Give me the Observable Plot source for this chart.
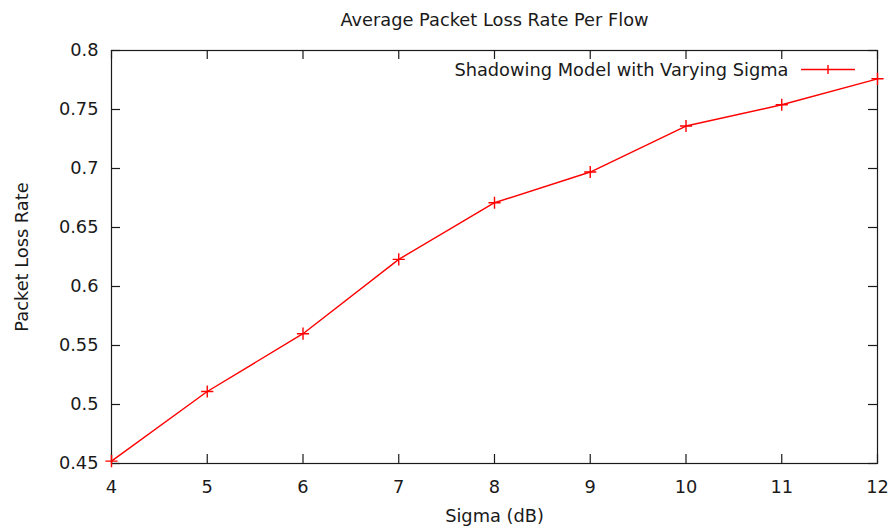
<!DOCTYPE html>
<html>
<head>
<meta charset="utf-8">
<script src="https://cdn.jsdelivr.net/npm/d3@7"></script>
<script src="https://cdn.jsdelivr.net/npm/@observablehq/plot@0.6"></script>
<style>
  html, body { margin: 0; padding: 0; background: #fff; }
</style>
</head>
<body>
<div id="chart"></div>
<script>
const title = "Average Packet Loss Rate Per Flow";
const xLabel = "Sigma (dB)";
const yLabel = "Packet Loss Rate";
const seriesName = "Shadowing Model with Varying Sigma";
const sigma = [4, 5, 6, 7, 8, 9, 10, 11, 12];
const lossRate = [0.452, 0.511, 0.560, 0.623, 0.671, 0.697, 0.736, 0.754, 0.776];
const xTicks = [4, 5, 6, 7, 8, 9, 10, 11, 12];
const yTicks = [0.45, 0.5, 0.55, 0.6, 0.65, 0.7, 0.75, 0.8];
const yTickLabels = ["0.45", "0.5", "0.55", "0.6", "0.65", "0.7", "0.75", "0.8"];

const data = sigma.map((s, i) => ({sigma: s, loss: lossRate[i]}));
const red = "#ff0000";
const ink = "#1a1a1a";
const fs = 17.8;
const plotH = 529 - 50 - 66;
const tickLen = 9;

const legendSymbol = {
  draw(ctx) {
    ctx.moveTo(-27, 0); ctx.lineTo(27, 0);
    ctx.moveTo(0, -4.5); ctx.lineTo(0, 4.5);
  }
};

const chart = Plot.plot({
  width: 893,
  height: 529,
  marginTop: 50,
  marginBottom: 66,
  marginLeft: 111,
  marginRight: 16,
  style: {fontFamily: "DejaVu Sans", fontSize: fs + "px", background: "#fff", color: ink},
  x: {domain: [4, 12], ticks: xTicks},
  y: {domain: [0.45, 0.8], ticks: yTicks},
  marks: [
    Plot.frame({stroke: ink, strokeWidth: 1.2}),
    // inward ticks, mirrored on all sides
    Plot.tickX(xTicks, {x: d => d, stroke: ink, strokeWidth: 1.2, insetTop: plotH - tickLen}),
    Plot.tickX(xTicks, {x: d => d, stroke: ink, strokeWidth: 1.2, insetBottom: plotH - tickLen}),
    Plot.tickY(yTicks, {y: d => d, stroke: ink, strokeWidth: 1.2, insetRight: 766 - tickLen}),
    Plot.tickY(yTicks, {y: d => d, stroke: ink, strokeWidth: 1.2, insetLeft: 766 - tickLen}),
    Plot.axisX({ticks: xTicks, tickSize: 0, tickPadding: 17, label: null, fill: ink, fontSize: fs}),
    Plot.axisY({ticks: yTicks, tickSize: 0, tickPadding: 13, label: null, fill: ink, fontSize: fs,
      tickFormat: d => yTickLabels[yTicks.indexOf(d)]}),
    Plot.line(data, {x: "sigma", y: "loss", stroke: red, strokeWidth: 1.4}),
    Plot.dot(data, {x: "sigma", y: "loss", symbol: "plus", stroke: red, strokeWidth: 1.4, r: 4}),
    // title & axis labels
    Plot.text([title], {frameAnchor: "top", dy: -25, textAnchor: "middle", lineAnchor: "bottom", fill: ink, fontSize: fs}),
    Plot.text([xLabel], {frameAnchor: "bottom", dy: 58, textAnchor: "middle", lineAnchor: "bottom", fill: ink, fontSize: fs}),
    Plot.text([yLabel], {frameAnchor: "left", dx: -84, rotate: -90, textAnchor: "middle", lineAnchor: "bottom", fill: ink, fontSize: fs}),
    // legend
    Plot.text([seriesName], {frameAnchor: "top-right", dx: -89, dy: 25, textAnchor: "end", lineAnchor: "bottom", fill: ink, fontSize: fs}),
    Plot.dot([seriesName], {frameAnchor: "top-right", dx: -49.5, dy: 19, symbol: legendSymbol, stroke: red, strokeWidth: 1.4, fill: "none"})
  ]
});
document.getElementById("chart").appendChild(chart);
</script>
</body>
</html>
